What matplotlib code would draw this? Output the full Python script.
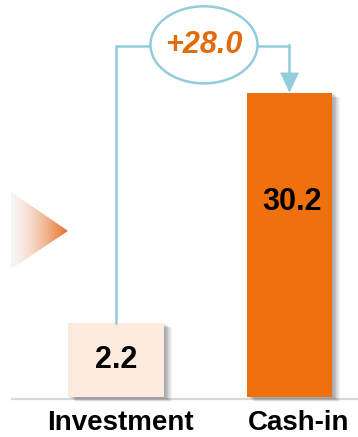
import matplotlib
matplotlib.use("Agg")
import matplotlib.pyplot as plt
import numpy as np
from matplotlib.patches import Ellipse, Polygon, FancyArrowPatch
from matplotlib.transforms import ScaledTranslation

plt.rcParams['font.family'] = ['Liberation Sans', 'DejaVu Sans']

# data
categories = ['Investment', 'Cash-in']
values = [2.2, 30.2]
delta_label = '+28.0'

# style
bar_colors = ['#FDEADF', '#EE700F']
bar_widths = [0.553, 0.49]
min_bar = 7.35          # small bars are drawn taller so the label fits
blue = '#92CDDC'
orange_txt = '#E36C0A'

fig = plt.figure(figsize=(3.58, 4.37), dpi=100)
ax = fig.add_axes([0, 0, 1, 1])
ax.set_xlim(-0.669, 1.395)
ax.set_ylim(-3.97, 39.4)
ax.axis('off')

x = np.arange(len(categories))
heights = [max(v, min_bar) for v in values]

# baseline
ax.plot([-0.605, 1.395], [-0.2, -0.2], color='#D9D9D9', lw=1.6, zorder=1,
        solid_capstyle='butt')

# soft shadows
for i in range(1, 10):
    off = ScaledTranslation(i * 0.9 / 100, -i * 0.55 / 100, fig.dpi_scale_trans)
    ax.bar(x, heights, width=bar_widths, color='#000000', alpha=0.045,
           transform=ax.transData + off, zorder=2, linewidth=0)

ax.bar(x, heights, width=bar_widths, color=bar_colors, zorder=3, linewidth=0)

# value labels
ax.text(x[0], heights[0] / 2, f'{values[0]:.1f}', ha='center', va='center',
        fontsize=22, fontweight='bold', color='black', zorder=5)
ax.text(x[1] + 0.015, 19.4, f'{values[1]:.1f}', ha='center', va='center',
        fontsize=22, fontweight='bold', color='black', zorder=5)

# category labels
ax.text(x[0] + 0.025, -2.6, categories[0], ha='center', va='center',
        fontsize=20, fontweight='bold', color='black')
ax.text(x[1] + 0.05, -2.6, categories[1], ha='center', va='center',
        fontsize=20, fontweight='bold', color='black')

# connector with ellipse
ecx, ecy, ew, eh = 0.507, 34.95, 0.617, 7.65
line_y = 34.86
ax.plot([x[0], x[0], ecx - ew / 2], [heights[0], line_y, line_y],
        color=blue, lw=1.8, zorder=4, solid_joinstyle='miter')
ax.plot([ecx + ew / 2, x[1]], [line_y, line_y], color=blue, lw=1.8, zorder=4)
arrow = FancyArrowPatch((x[1], line_y + 0.08), (x[1], heights[1]),
                        arrowstyle='-|>,head_length=11.5,head_width=5.4',
                        mutation_scale=1, shrinkA=0, shrinkB=0,
                        color=blue, lw=1.8, zorder=4, joinstyle='miter')
ax.add_patch(arrow)
ax.add_patch(Ellipse((ecx, ecy), ew, eh, facecolor='white', edgecolor=blue,
                     lw=1.8, zorder=4))
ax.text(ecx, ecy, delta_label, ha='center', va='center', fontsize=22,
        fontweight='bold', fontstyle='italic', color=orange_txt, zorder=5)

# gradient triangle on the left
tri = Polygon([[-0.605, 20.36], [-0.277, 16.48], [-0.605, 12.71]],
              closed=True, facecolor='none', edgecolor='none')
ax.add_patch(tri)
c0 = np.array([0.98, 0.96, 0.96])
c1 = np.array([0.91, 0.43, 0.14])
t = np.linspace(0, 1, 200) ** 1.5
grad = (c0[None, :] * (1 - t[:, None]) + c1[None, :] * t[:, None])[None, :, :]
im = ax.imshow(grad, extent=[-0.605, -0.277, 12.71, 20.36], aspect='auto',
               zorder=2, interpolation='bilinear')
im.set_clip_path(tri)

fig.savefig('out.png', dpi=100)
